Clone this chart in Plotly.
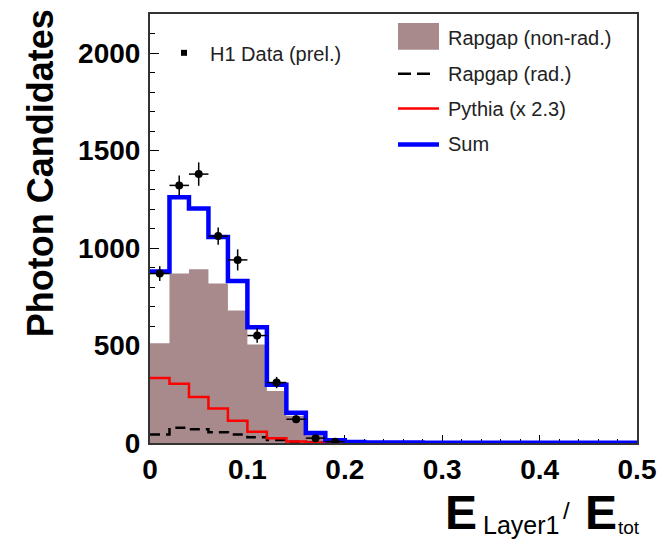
import plotly.graph_objects as go

# ---------------- data ----------------
bin_edges = [0.00, 0.02, 0.04, 0.06, 0.08, 0.10, 0.12, 0.14, 0.16, 0.18, 0.20,
             0.22, 0.24, 0.26, 0.28, 0.30, 0.32, 0.34, 0.36, 0.38, 0.40,
             0.42, 0.44, 0.46, 0.48, 0.50]

rapgap_nonrad = [512, 869, 891, 818, 679, 505, 267, 140, 40, 12, 4, 3, 2,
                 2, 1, 1, 1, 1, 0, 0, 0, 0, 0, 0, 0]
rapgap_rad = [44, 78, 70, 55, 44, 29, 15, 7, 3, 1, 1, 0, 0,
              0, 0, 0, 0, 0, 0, 0, 0, 0, 0, 0, 0]
pythia_x23 = [333, 304, 236, 177, 114, 58, 24, 8, 3, 2, 1, 1, 0,
              0, 0, 0, 0, 0, 0, 0, 0, 0, 0, 0, 0]
mc_sum = [880, 1260, 1202, 1056, 831, 593, 299, 155, 51, 14, 5, 3, 2,
          2, 1, 1, 1, 1, 1, 1, 1, 1, 1, 1, 1]

data_x = [0.01, 0.03, 0.05, 0.07, 0.09, 0.11, 0.13, 0.15, 0.17, 0.19]
data_y = [869, 1321, 1379, 1061, 939, 551, 310, 122, 25, 7]
data_err = [38, 51, 60, 44, 54, 37, 29, 20, 14, 6]
data_xerr = [0.01] * len(data_x)

x_ticks = [0, 0.1, 0.2, 0.3, 0.4, 0.5]
x_ticktext = ["0", "0.1", "0.2", "0.3", "0.4", "0.5"]
y_ticks = [0, 500, 1000, 1500, 2000]
y_ticktext = ["0", "500", "1000", "1500", "2000"]

BROWN = "#a88a8c"
FONT = "Liberation Sans"


def step(vals):
    xs = list(bin_edges)
    ys = list(vals) + [vals[-1]]
    return xs, ys


fig = go.Figure()

x, y = step(rapgap_nonrad)
fig.add_trace(go.Scatter(x=x, y=y, mode="lines", line=dict(shape="hv", width=0, color=BROWN),
                         fill="tozeroy", fillcolor=BROWN, hoverinfo="skip"))
x, y = step(rapgap_rad)
fig.add_trace(go.Scatter(x=x, y=y, mode="lines",
                         line=dict(shape="hv", width=2.5, color="black", dash="10px,6px")))
x, y = step(pythia_x23)
fig.add_trace(go.Scatter(x=x, y=y, mode="lines", line=dict(shape="hv", width=2.5, color="#ff0000")))
x, y = step(mc_sum)
fig.add_trace(go.Scatter(x=x, y=y, mode="lines", line=dict(shape="hv", width=4.5, color="#0000ff")))

fig.add_trace(go.Scatter(
    x=data_x, y=data_y, mode="markers",
    marker=dict(symbol="circle", size=8, color="black"),
    error_y=dict(type="data", array=data_err, width=0, thickness=1.5, color="black"),
    error_x=dict(type="data", array=data_xerr, width=0, thickness=1.5, color="black"),
))

# ---------------- layout helpers ----------------
# page body has an 8px default margin, so the figure is offset by (8, 8)
OFF = 8
PL, PT = 150, 12            # plot-area top-left in window pixels
PW, PH = 487, 431           # plot-area size
W, H = 671 - OFF, 541 - OFF
ML, MT = PL - OFF, PT - OFF
MR = W - ML - PW
MB = H - MT - PH


def px(xp):
    return (xp - PL) / PW


def py(yp):
    return (PT + PH - yp) / PH


shapes = []
annotations = []

# legend
shapes.append(dict(type="rect", xref="paper", yref="paper", x0=px(398), x1=px(439),
                   y0=py(48), y1=py(21), fillcolor=BROWN, line=dict(width=0)))
shapes.append(dict(type="line", xref="paper", yref="paper", x0=px(398), x1=px(434),
                   y0=py(72), y1=py(72), line=dict(color="black", width=2.5, dash="13px,6px")))
shapes.append(dict(type="line", xref="paper", yref="paper", x0=px(398), x1=px(439),
                   y0=py(107), y1=py(107), line=dict(color="#ff0000", width=2.5)))
shapes.append(dict(type="line", xref="paper", yref="paper", x0=px(398), x1=px(439),
                   y0=py(143), y1=py(143), line=dict(color="#0000ff", width=4.5)))
shapes.append(dict(type="rect", xref="paper", yref="paper", x0=px(181), x1=px(187),
                   y0=py(54), y1=py(48), fillcolor="black", line=dict(width=0)))

leg_font = dict(family=FONT, size=20, color="#222")
for txt, xx, yy in [("H1 Data (prel.)", 208, 52), ("Rapgap (non-rad.)", 446, 36),
                    ("Rapgap (rad.)", 446, 72), ("Pythia (x 2.3)", 446, 107),
                    ("Sum", 446, 143)]:
    annotations.append(dict(text=txt, xref="paper", yref="paper", x=px(xx), y=py(yy),
                            xanchor="left", yanchor="middle", showarrow=False, font=leg_font))

# y-axis title
annotations.append(dict(text="Photon Candidates", xref="paper", yref="paper",
                        x=px(40), y=py(172), xanchor="center", yanchor="middle",
                        textangle=-90, showarrow=False,
                        font=dict(family=FONT, size=36, color="black", weight="bold")))

# x-axis title pieces
big = dict(family=FONT, size=48, color="black", weight="bold")
annotations.append(dict(text="E", xref="paper", yref="paper", x=px(443), y=py(513),
                        xanchor="left", yanchor="middle", showarrow=False, font=big))
annotations.append(dict(text="Layer1", xref="paper", yref="paper", x=px(481), y=py(525),
                        xanchor="left", yanchor="middle", showarrow=False,
                        font=dict(family=FONT, size=25, color="black")))
annotations.append(dict(text="/", xref="paper", yref="paper", x=px(566), y=py(511),
                        xanchor="center", yanchor="middle", showarrow=False,
                        font=dict(family=FONT, size=24, color="black")))
annotations.append(dict(text="E", xref="paper", yref="paper", x=px(583), y=py(513),
                        xanchor="left", yanchor="middle", showarrow=False, font=big))
annotations.append(dict(text="tot", xref="paper", yref="paper", x=px(616), y=py(528),
                        xanchor="left", yanchor="middle", showarrow=False,
                        font=dict(family=FONT, size=19, color="black")))

tickfont = dict(family=FONT, size=28, color="black", weight="bold")

fig.update_layout(
    width=W, height=H,
    margin=dict(l=ML, r=MR, t=MT, b=MB, pad=0),
    paper_bgcolor="white", plot_bgcolor="white",
    showlegend=False,
    shapes=shapes, annotations=annotations,
    xaxis=dict(range=[0, 0.5], tickvals=x_ticks, ticktext=x_ticktext, ticks="inside",
               ticklen=8, tickwidth=1.2, tickcolor="black",
               minor=dict(dtick=0.02, tick0=0, ticks="inside", ticklen=4, tickwidth=1.2, tickcolor="black"),
               showline=True, linecolor="#333", linewidth=2, mirror=True,
               showgrid=False, zeroline=False, tickfont=tickfont, layer="below traces"),
    yaxis=dict(range=[0, 2200], tickvals=y_ticks, ticktext=y_ticktext, ticks="inside",
               ticklen=9, tickwidth=1.2, tickcolor="black",
               minor=dict(dtick=100, tick0=0, ticks="inside", ticklen=5, tickwidth=1.2, tickcolor="black"),
               showline=True, linecolor="#333", linewidth=2, mirror=True,
               showgrid=False, zeroline=False, tickfont=tickfont, layer="below traces",
               ticklabelstandoff=2),
)

fig.write_html("out.html")
